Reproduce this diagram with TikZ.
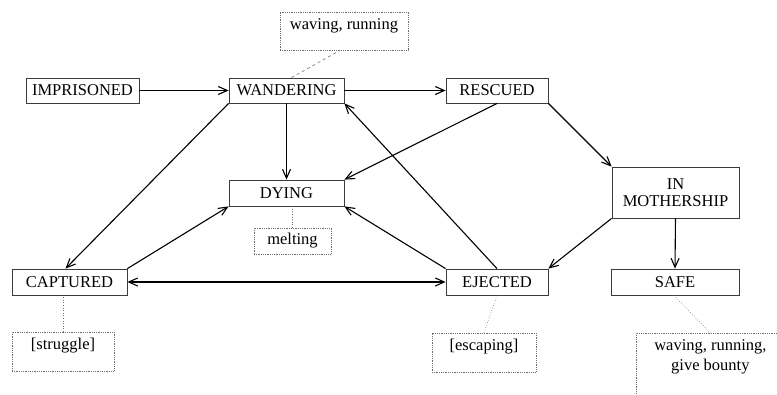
\documentclass[tikz,border=0pt]{standalone}
\usepackage{fontspec}
\setmainfont{Liberation Serif}
\usetikzlibrary{arrows.meta}
\definecolor{boxgray}{RGB}{60,60,60}
\definecolor{notegray}{RGB}{110,110,110}
\tikzset{
  state/.style={draw=boxgray, line width=0.8pt, inner sep=2pt,
                minimum height=25pt, align=center},
  note/.style={draw=notegray, densely dotted, line width=0.8pt,
               inner xsep=3pt, inner ysep=5pt, text height=12pt, align=center},
  trans/.style={line width=1.1pt, -{Straight Barb[length=9pt,width=8pt]}},
  link/.style={draw=notegray, line width=0.6pt}
}

\begin{document}
\begin{tikzpicture}[x=1pt, y=-1pt, font=\fontsize{16.5}{20}\selectfont]
  \useasboundingbox (0,0) rectangle (777,394);

  % states
  \node[state, minimum width=113pt] (imp)   at (82.5,90.5) {IMPRISONED};
  \node[state, minimum width=115pt] (wand)  at (286.5,90.5) {WANDERING};
  \node[state, minimum width=102pt] (resc)  at (497,90.5) {RESCUED};
  \node[state, minimum width=115pt, minimum height=26pt] (dying) at (286.5,193) {DYING};
  \node[state, minimum width=127pt, minimum height=51pt] (moth)  at (675.5,192.5) {IN\\[-3pt]MOTHERSHIP};
  \node[state, minimum width=115pt, minimum height=26pt] (capt)  at (69.5,282) {CAPTURED};
  \node[state, minimum width=102pt, minimum height=26pt] (eject) at (497,282) {EJECTED};
  \node[state, minimum width=128pt, minimum height=26pt] (safe)  at (675,282) {SAFE};

  % notes
  \node[note, minimum width=128pt, text depth=16pt] (wavenote) at (344,31) {waving, running};
  \node[note, minimum width=77pt, minimum height=26pt, inner ysep=2pt, text height=] (meltnote) at (292.5,241) {melting};
  \node[note, minimum width=102pt, text depth=17pt] (strugnote) at (63,351.5) {[struggle]};
  \node[note, minimum width=104pt, text depth=17pt] (escnote) at (484,352.5) {[escaping]};
  \node[note, minimum width=148pt, text height=32pt, text depth=40pt, anchor=north west] (safenote) at (636,333)
    {waving, running,\\ give bounty};

  % note links
  \draw[link, dashed] ([xshift=5pt]wand.north) -- ([xshift=-4pt]wavenote.south);
  \draw[link, dotted] (meltnote.north) -- (meltnote.north |- dying.south);
  \draw[link, dotted] (strugnote.north) -- (strugnote.north |- capt.south);
  \draw[link, dotted] (eject.south) -- (escnote.north);
  \draw[link, dotted] ([xshift=-1pt]safe.south) -- (safenote.north);

  % transitions
  \draw[trans] (imp.east) -- (wand.west);
  \draw[trans] (wand.east) -- (resc.west);
  \draw[trans] (wand.south) -- (dying.north);
  \draw[trans] (wand.south west) -- ([xshift=-4pt]capt.north);
  \draw[trans] (resc.south) -- (dying.north east);
  \draw[trans] (resc.south east) -- (moth.north west);
  \draw[trans] (moth.south) -- (safe.north);
  \draw[trans] (moth.south west) -- (eject.north east);
  \draw[trans] (eject.north) -- (wand.south east);
  \draw[trans] (eject.north west) -- (dying.south east);
  \draw[trans] (capt.north east) -- (dying.south west);
  \draw[trans, {Straight Barb[length=9pt,width=8pt]}-{Straight Barb[length=9pt,width=8pt]}] (capt.east) -- (eject.west);
\end{tikzpicture}
\end{document}
